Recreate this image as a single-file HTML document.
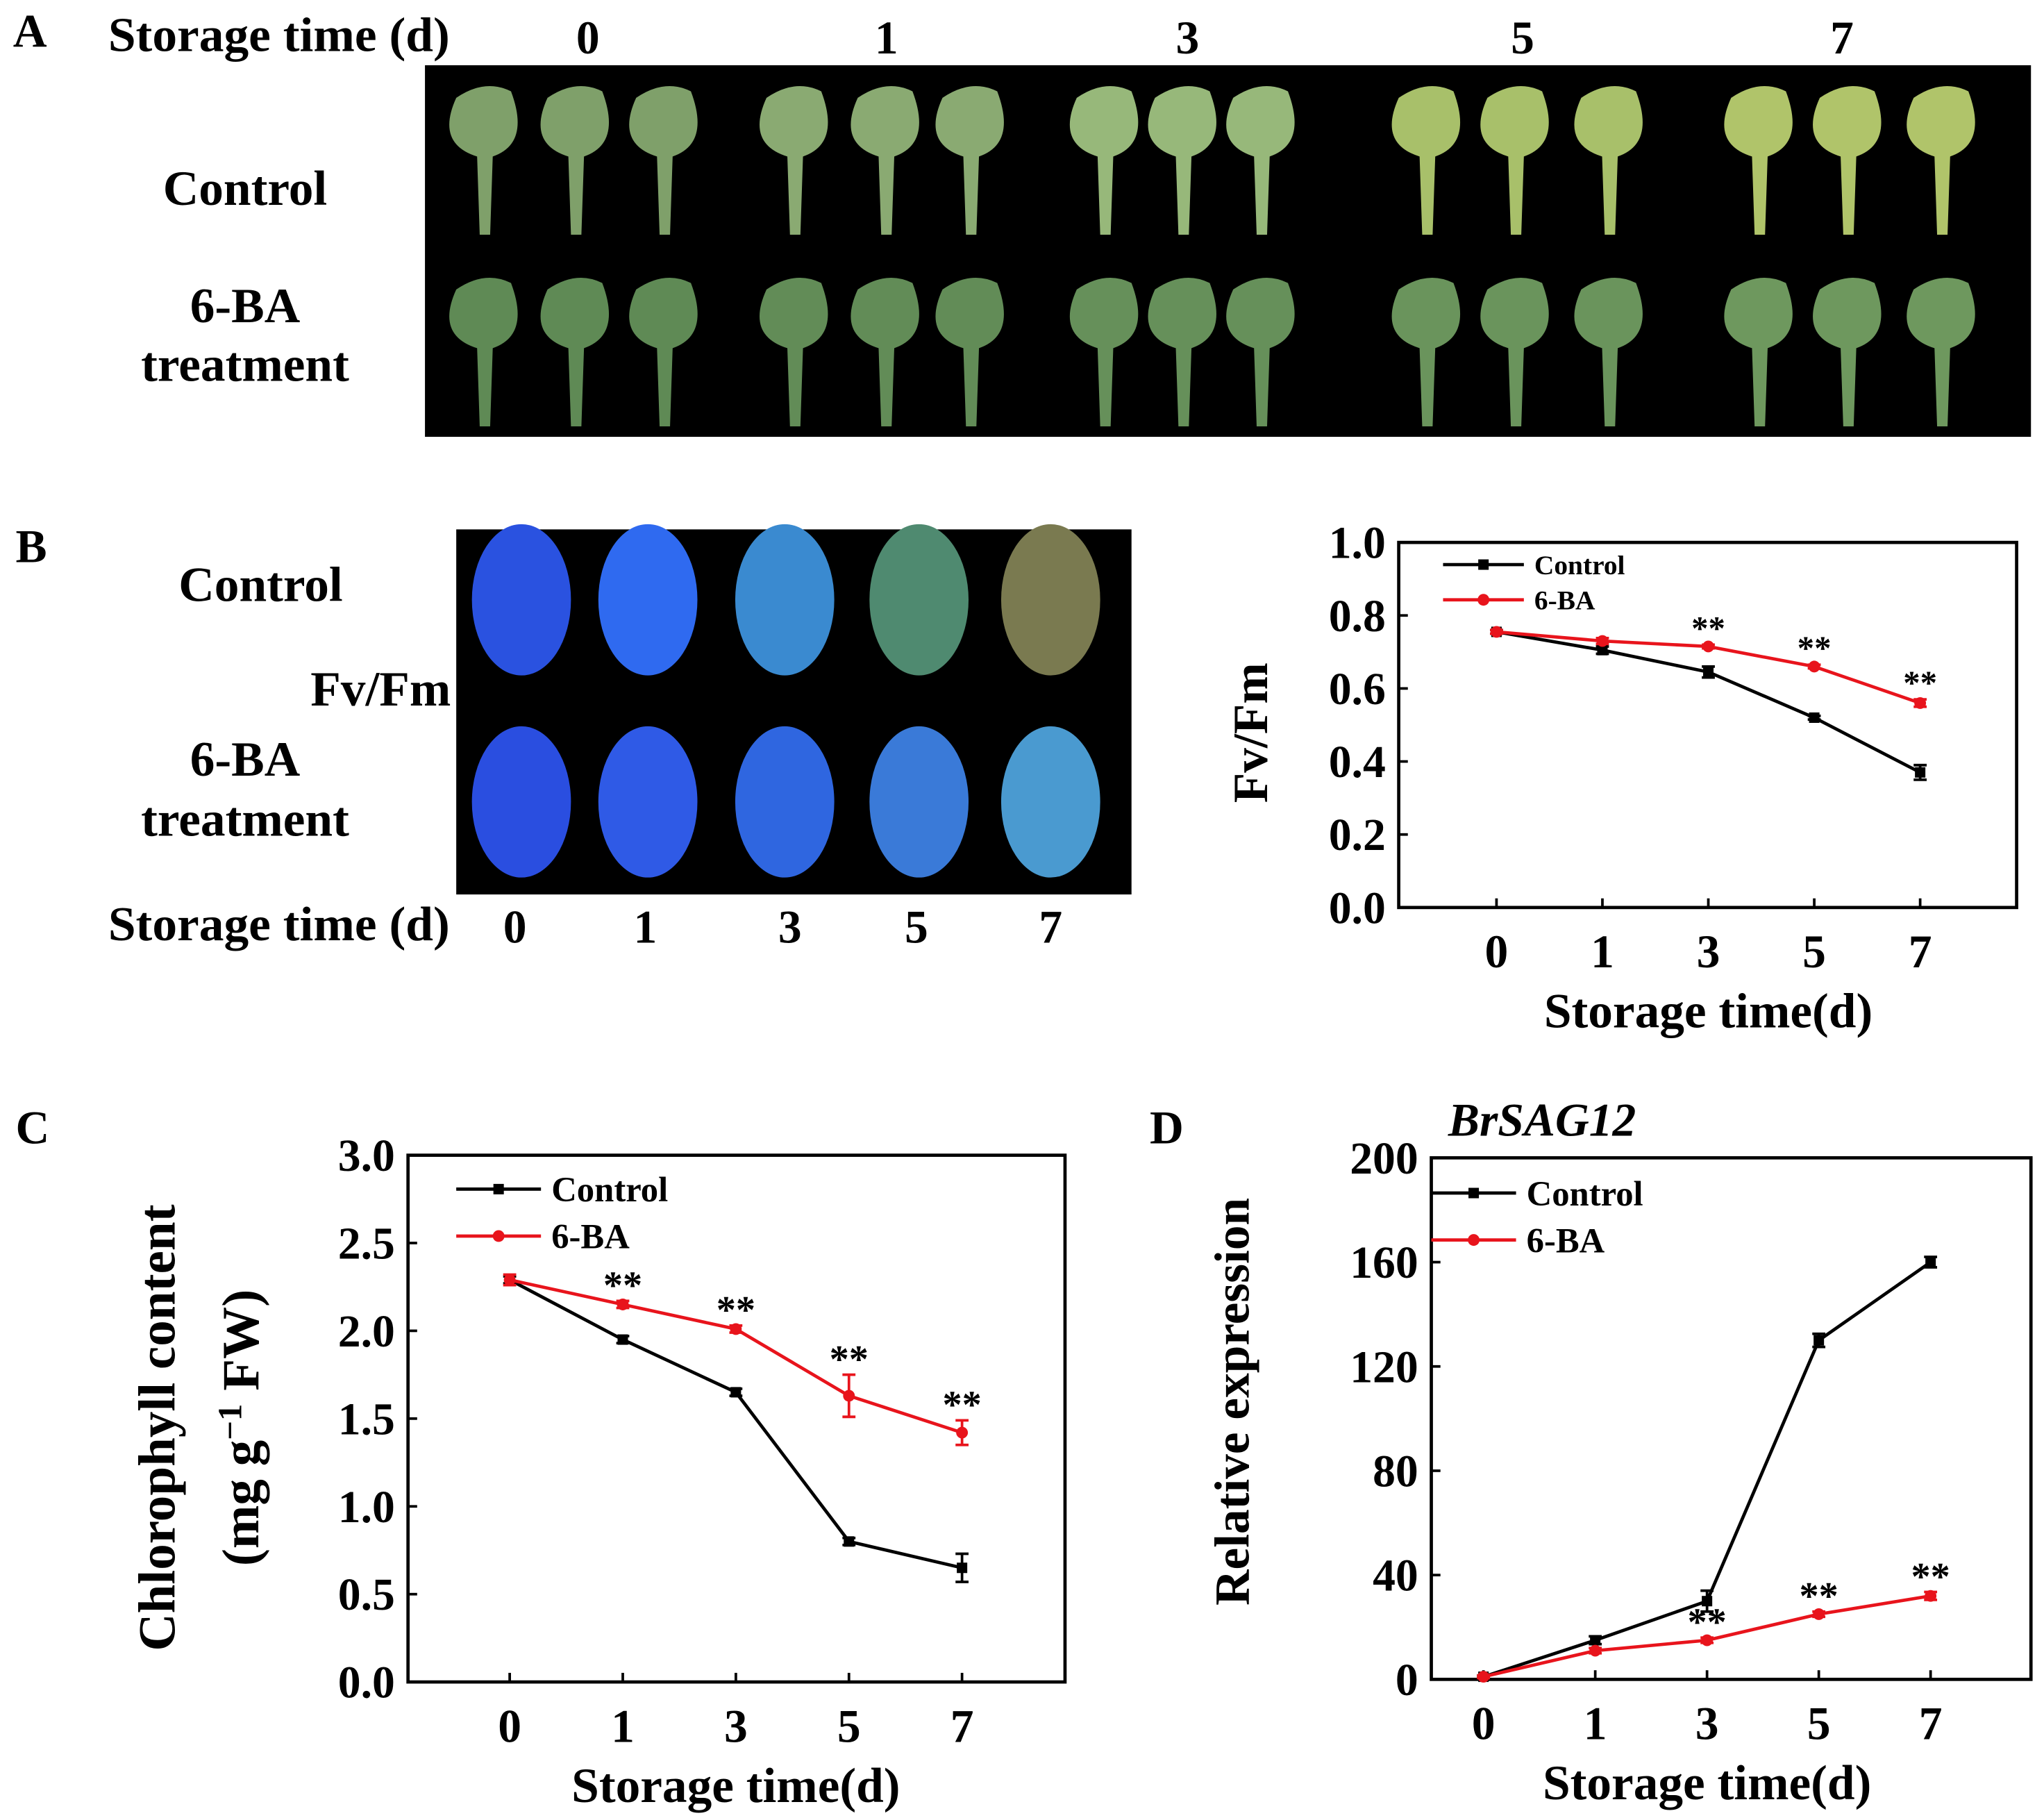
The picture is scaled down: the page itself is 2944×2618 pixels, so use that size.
<!DOCTYPE html>
<html><head><meta charset="utf-8"><style>
html,body{margin:0;padding:0;background:#fff;}
svg{display:block;}
text{font-family:"Liberation Serif",serif;font-weight:bold;fill:#000;}
</style></head><body>
<svg id="fig" width="2944" height="2618" viewBox="0 0 1568 1394.3" xmlns="http://www.w3.org/2000/svg">
<rect width="1568" height="1395" fill="#fff"/>
<text x="10" y="36" font-size="36">A</text>
<text x="83" y="39" font-size="37" textLength="262" lengthAdjust="spacingAndGlyphs">Storage time (d)</text>
<g font-size="36" text-anchor="middle">
<text x="451" y="41">0</text><text x="680" y="41">1</text><text x="911" y="41">3</text><text x="1168" y="41">5</text><text x="1413" y="41">7</text></g>
<rect x="326" y="50" width="1232" height="285" fill="#000"/>
<g id="leavesA"></g>
<text x="188" y="157" font-size="38" text-anchor="middle">Control</text>
<text x="188" y="247" font-size="38" text-anchor="middle">6-BA</text>
<text x="188" y="292" font-size="38" text-anchor="middle">treatment</text>
<text x="12" y="431" font-size="36">B</text>
<rect x="350" y="406" width="518" height="280" fill="#000"/>
<g id="leavesB"></g>
<text x="200" y="461" font-size="38" text-anchor="middle">Control</text>
<text x="292" y="541" font-size="38" text-anchor="middle">Fv/Fm</text>
<text x="188" y="595" font-size="38" text-anchor="middle">6-BA</text>
<text x="188" y="641" font-size="38" text-anchor="middle">treatment</text>
<text x="83" y="721" font-size="37" textLength="262" lengthAdjust="spacingAndGlyphs">Storage time (d)</text>
<g font-size="36" text-anchor="middle">
<text x="395" y="723">0</text><text x="495" y="723">1</text><text x="606" y="723">3</text><text x="703" y="723">5</text><text x="806" y="723">7</text></g>
<text x="12" y="877" font-size="36">C</text>
<text x="882" y="877" font-size="36">D</text>
<text x="1183" y="871" font-size="36" font-style="italic" text-anchor="middle">BrSAG12</text>
<g id="charts"></g>
</svg>
<script>
const NS="http://www.w3.org/2000/svg";
function mk(parent,tag,attrs,txt){const e=document.createElementNS(NS,tag);for(const k in attrs)e.setAttribute(k,attrs[k]);if(txt!==undefined)e.textContent=txt;parent.appendChild(e);return e;}

const days=["0","1","3","5","7"];
const fvControl=[0.755,0.705,0.645,0.52,0.37];
const fvControlErr=[0.005,0.01,0.015,0.005,0.02];
const fvBA=[0.755,0.73,0.715,0.66,0.56];
const fvBAErr=[0.005,0.008,0.005,0.005,0.01];
const fvSig=["","","**","**","**"];
const fvTicks=[0,0.2,0.4,0.6,0.8,1.0];
const chlControl=[2.29,1.95,1.65,0.80,0.65];
const chlControlErr=[0.02,0.02,0.02,0.02,0.08];
const chlBA=[2.29,2.15,2.01,1.63,1.42];
const chlBAErr=[0.03,0.02,0.02,0.12,0.07];
const chlSig=["","**","**","**","**"];
const chlTicks=[0,0.5,1.0,1.5,2.0,2.5,3.0];
const sagControl=[1,15,30,130,160];
const sagControlErr=[0.5,1.5,4,2.5,2];
const sagBA=[1,11,15,25,32];
const sagBAErr=[0.5,1,1,1,1.5];
const sagSig=["","","**","**","**"];
const sagTicks=[0,40,80,120,160,200];

function chart(o){
  const g=mk(document.getElementById('charts'),'g',{});
  
  
  const xs=i=>o.x0+i*(o.x4-o.x0)/4;
  const ys=v=>o.yb-(v-o.ymin)/(o.ymax-o.ymin)*(o.yb-o.yt);
  const box=mk(g,'rect',{x:o.L,y:o.yt,width:o.R-o.L,height:o.yb-o.yt,fill:'none',stroke:'#000','stroke-width':2.5});
  
  o.ticks.forEach(t=>{
    mk(g,'line',{x1:o.L,x2:o.L+7,y1:ys(t),y2:ys(t),stroke:'#000','stroke-width':2});
    const tl=mk(g,'text',{x:o.L-10,y:ys(t)+12,'font-size':35,'text-anchor':'end'},o.fmt(t));
    
  });
  days.forEach((d,i)=>{
    mk(g,'line',{x1:xs(i),x2:xs(i),y1:o.yb,y2:o.yb-7,stroke:'#000','stroke-width':2});
    const tl=mk(g,'text',{x:xs(i),y:o.yb+46,'font-size':36,'text-anchor':'middle'},d);
    
  });
  const xt=mk(g,'text',{x:(o.x0+o.x4)/2,y:o.yb+92,'font-size':38,'text-anchor':'middle'},'Storage time(d)');
  
  o.ylab.forEach((l,k)=>{
    const yt=mk(g,'text',{transform:`translate(${l.x},${o.ymidLabel}) rotate(-90)`,'font-size':o.ylSize,'text-anchor':'middle'});
    
    yt.innerHTML=l.t;
  });
  [[o.c,o.ce,'#000','control'],[o.b,o.be,'#e8141c','6ba']].forEach(([vals,err,col,nm])=>{
    const pts=vals.map((v,i)=>xs(i)+','+ys(v)).join(' ');
    const pl=mk(g,'polyline',{points:pts,fill:'none',stroke:col,'stroke-width':2.5});
    
    vals.forEach((v,i)=>{
      const x=xs(i);
      mk(g,'line',{x1:x,x2:x,y1:ys(v-err[i]),y2:ys(v+err[i]),stroke:col,'stroke-width':2});
      mk(g,'line',{x1:x-5,x2:x+5,y1:ys(v-err[i]),y2:ys(v-err[i]),stroke:col,'stroke-width':2});
      mk(g,'line',{x1:x-5,x2:x+5,y1:ys(v+err[i]),y2:ys(v+err[i]),stroke:col,'stroke-width':2});
      let m;
      if(nm==='control') m=mk(g,'rect',{x:x-4,y:ys(v)-4,width:8,height:8,fill:col});
      else m=mk(g,'circle',{cx:x,cy:ys(v),r:4.5,fill:col});
      
    });
  });
  o.sig.forEach((s,i)=>{ if(!s)return;
    const st=mk(g,'text',{x:xs(i),y:ys(o.b[i]+o.be[i])-8+o.sigOff,'font-size':o.sigSize,'text-anchor':'middle'},s);
    
  });
  const lg=mk(g,'g',{});
  const lx=o.lx,ly=o.ly,ls=o.lsize;
  mk(lg,'line',{x1:lx,x2:lx+o.llen,y1:ly,y2:ly,stroke:'#000','stroke-width':2.5});
  mk(lg,'rect',{x:lx+o.llen/2-4,y:ly-4,width:8,height:8,fill:'#000'});
  const l1=mk(lg,'text',{x:lx+o.llen+8,y:ly+ls*0.35,'font-size':ls},'Control');
  
  mk(lg,'line',{x1:lx,x2:lx+o.llen,y1:ly+o.lgap,y2:ly+o.lgap,stroke:'#e8141c','stroke-width':2.5});
  mk(lg,'circle',{cx:lx+o.llen/2,cy:ly+o.lgap,r:4.5,fill:'#e8141c'});
  const l2=mk(lg,'text',{x:lx+o.llen+8,y:ly+o.lgap+ls*0.35,'font-size':ls},'6-BA');
  
}
chart({name:'fvfm-chart',L:1073,R:1547,yt:416,yb:696,x0:1148,x4:1473,ymin:0,ymax:1,ticks:fvTicks,fmt:t=>t.toFixed(1),
  c:fvControl,ce:fvControlErr,b:fvBA,be:fvBAErr,sig:fvSig,sigOff:4,sigSize:26,ylSize:38,
  ylab:[{x:972,t:'Fv/Fm'}],ymidLabel:562,lx:1107,ly:433,llen:62,lgap:27,lsize:21});
chart({name:'chlorophyll-chart',L:313,R:817,yt:886,yb:1290,x0:391,x4:738,ymin:0,ymax:3,ticks:chlTicks,fmt:t=>t.toFixed(1),
  c:chlControl,ce:chlControlErr,b:chlBA,be:chlBAErr,sig:chlSig,sigOff:6,sigSize:30,ylSize:40,
  ylab:[{x:134,t:'Chlorophyll content'},{x:198,t:'(mg g<tspan font-size="26" dy="-13">−1</tspan><tspan dy="13"> FW)</tspan>'}],ymidLabel:1095,
  lx:350,ly:912,llen:65,lgap:36,lsize:27});
chart({name:'brsag12-chart',L:1098,R:1558,yt:888,yb:1288,x0:1138,x4:1481,ymin:0,ymax:200,ticks:sagTicks,fmt:t=>String(t),
  c:sagControl,ce:sagControlErr,b:sagBA,be:sagBAErr,sig:sagSig,sigOff:6,sigSize:30,ylSize:38,
  ylab:[{x:958,t:'Relative expression'}],ymidLabel:1075,lx:1098,ly:915,llen:65,lgap:36,lsize:27});

const gA=document.getElementById('leavesA');
const colsA=[[372,442,510],[610,680,745],[848,908,968],[1095,1163,1235],[1350,1418,1490]];
const ctrlCol=['#7fa06a','#8aaa72','#97b87a','#a8c06a','#b0c46a'];
const baCol=['#5f8a55','#628c57','#66905a','#6a945c','#6e985e'];
colsA.forEach((grp,d)=>grp.forEach((cx,k)=>{
  [[115,ctrlCol[d]],[262,baCol[d]]].forEach(([cy,col])=>{
    const p=mk(gA,'path',{d:`M${cx-4} ${cy+65} L${cx+4} ${cy+65} L${cx+6} ${cy+5} Q${cx+35} ${cy-5} ${cx+20} ${cy-45} Q${cx} ${cy-55} ${cx-22} ${cy-40} Q${cx-38} ${cy-5} ${cx-6} ${cy+5} Z`,fill:col});
    
  });
}));
const gB=document.getElementById('leavesB');
const bx=[400,497,602,705,806];
const bCtrl=['#2a52e0','#2f6af0','#3a8ad0','#4f8a70','#7a7a50'];
const bBA=['#2a4ee0','#2f5ae6','#2f66e0','#3a7ad8','#4a9ad0'];
bx.forEach((cx,i)=>{
  [[460,bCtrl[i]],[615,bBA[i]]].forEach(([cy,col])=>{
    const e=mk(gB,'ellipse',{cx:cx,cy:cy,rx:38,ry:58,fill:col});
    
  });
});
</script>
</body></html>
